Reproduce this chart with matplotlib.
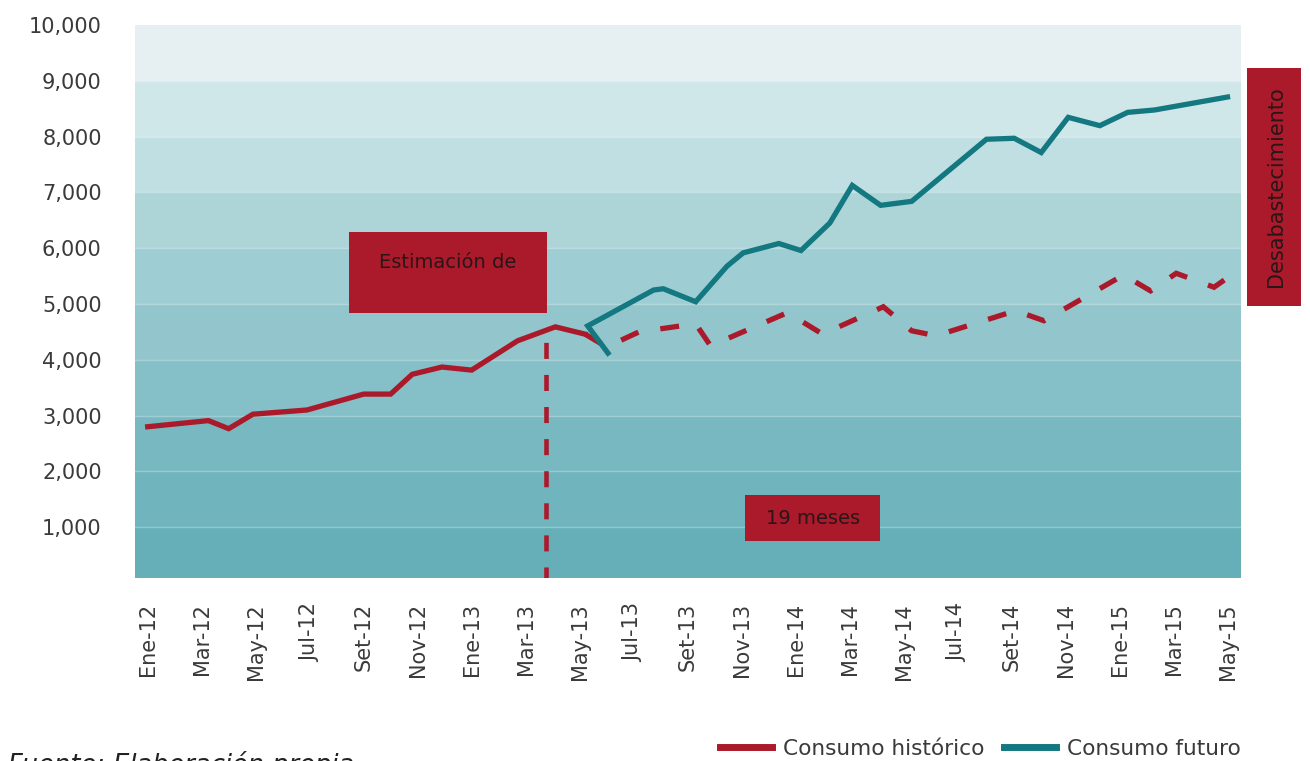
import matplotlib
matplotlib.use('Agg')
import matplotlib.pyplot as plt
from matplotlib.lines import Line2D
from matplotlib.patches import Rectangle

# ---------------- data ----------------
tick_months = list(range(0, 41, 2))
tick_labels = ['Ene-12', 'Mar-12', 'May-12', 'Jul-12', 'Set-12', 'Nov-12', 'Ene-13',
               'Mar-13', 'May-13', 'Jul-13', 'Set-13', 'Nov-13', 'Ene-14', 'Mar-14',
               'May-14', 'Jul-14', 'Set-14', 'Nov-14', 'Ene-15', 'Mar-15', 'May-15']

hist_months = [0, 2.25, 3.0, 3.9, 5.9, 8.0, 9.0, 9.8, 10.9, 12.0, 13.7, 15.1, 16.2]
hist_values = [2800, 2910, 2765, 3025, 3100, 3385, 3385, 3740, 3870, 3815, 4340, 4590, 4460]

proj_months = [16.2, 17.0, 18.2, 20.3, 20.85, 23.7, 25.0, 27.25, 28.3, 29.2, 32.15,
               33.2, 36.15, 37.15, 38.1, 39.5, 40.5]
proj_values = [4460, 4230, 4500, 4645, 4250, 4845, 4460, 4950, 4520, 4430, 4880,
               4700, 5520, 5235, 5550, 5300, 5640]

fut_months = [17.05, 16.3, 18.74, 19.1, 20.3, 21.46, 22.06, 23.38, 24.2, 25.27, 26.1,
              27.15, 28.3, 31.07, 32.1, 33.1, 34.1, 35.27, 36.3, 37.3, 40.0]
fut_values = [4120, 4607, 5250, 5273, 5040, 5678, 5916, 6084, 5958, 6452, 7125,
              6768, 6839, 7952, 7970, 7714, 8345, 8196, 8434, 8477, 8709]

y_ticks = [1000, 2000, 3000, 4000, 5000, 6000, 7000, 8000, 9000, 10000]
band_edges = [0, 1000, 2000, 3000, 4000, 5000, 6000, 7000, 8000, 9000, 10000]
band_colors = ['#66AFB8', '#70B4BD', '#78B8C1', '#85BFC7', '#92C6CC',
               '#9FCDD4', '#ADD5D8', '#C0DFE3', '#D0E7EA', '#E6F0F2']

cut_month = 14.75
cut_value = 4520

RED = '#AA1A2B'
TEAL = '#137880'
TXT = '#3a3a3a'

# ---------------- figure ----------------
W, H = 1310, 761
fig = plt.figure(figsize=(W / 100, H / 100), dpi=100)
plt.rcParams['font.family'] = ['DejaVu Sans']
ax = fig.add_axes([135 / W, 1 - 578 / H, (1241 - 135) / W, (578 - 25) / H])

for i in range(len(band_colors)):
    ax.axhspan(band_edges[i], band_edges[i + 1], color=band_colors[i], lw=0, zorder=0)
for e in band_edges[1:-1]:
    ax.axhline(e, color='white', alpha=0.3, lw=1, zorder=0.5)

ax.vlines(cut_month, 0, cut_value, colors=RED, lw=3.3, linestyles=(0, (3.5, 3.5)),
          zorder=2)

ax.plot(hist_months, hist_values, color=RED, lw=3.8, solid_joinstyle='miter', zorder=3)
ax.plot(proj_months, proj_values, color=RED, lw=3.8, dashes=(3.6, 4.2),
        dash_joinstyle='miter', zorder=3)
ax.plot(fut_months, fut_values, color=TEAL, lw=3.8, solid_joinstyle='miter', zorder=4)

ax.set_xlim(-0.47, 40.5)
ax.set_ylim(89, 9964)
ax.set_xticks(tick_months)
ax.set_xticklabels(tick_labels, rotation=90, fontsize=15, color=TXT)
ax.set_yticks(y_ticks)
ax.set_yticklabels([f'{v:,}' for v in y_ticks], fontsize=15, color=TXT)
ax.tick_params(axis='both', length=0)
ax.tick_params(axis='y', pad=24)
ax.tick_params(axis='x', pad=18)
for s in ax.spines.values():
    s.set_visible(False)


def px_box(x0, y0, x1, y1):
    fig.add_artist(Rectangle((x0 / W, 1 - y1 / H), (x1 - x0) / W, (y1 - y0) / H,
                             transform=fig.transFigure, color=RED, lw=0, zorder=5))


px_box(349, 232, 547, 313)
fig.text(448 / W, 1 - 262 / H, 'Estimación de', ha='center', va='center',
         fontsize=14, color='#2a1518', zorder=6)

px_box(745, 495, 880, 541)
fig.text(813 / W, 1 - 519 / H, '19 meses', ha='center', va='center',
         fontsize=14, color='#2a1518', zorder=6)

px_box(1247, 68, 1301, 306)
fig.text(1276 / W, 1 - 187 / H, 'Desabastecimiento', ha='center', va='center',
         rotation=90, fontsize=15, color='#2a1518', zorder=6)

fig.text(8 / W, 1 - 751 / H, 'Fuente: Elaboración propia', ha='left', va='top',
         fontsize=18.5, style='italic', color='#222222')

handles = [Line2D([], [], color=RED, lw=5), Line2D([], [], color=TEAL, lw=5)]
fig.legend(handles, ['Consumo histórico', 'Consumo futuro'], loc='center left',
           bbox_to_anchor=(720 / W, 1 - 749 / H), ncol=2, frameon=False,
           fontsize=15.6, handlelength=2.4, handletextpad=0.5, columnspacing=0.9,
           borderpad=0, borderaxespad=0, labelcolor=TXT)

fig.savefig('out.png', dpi=100)
